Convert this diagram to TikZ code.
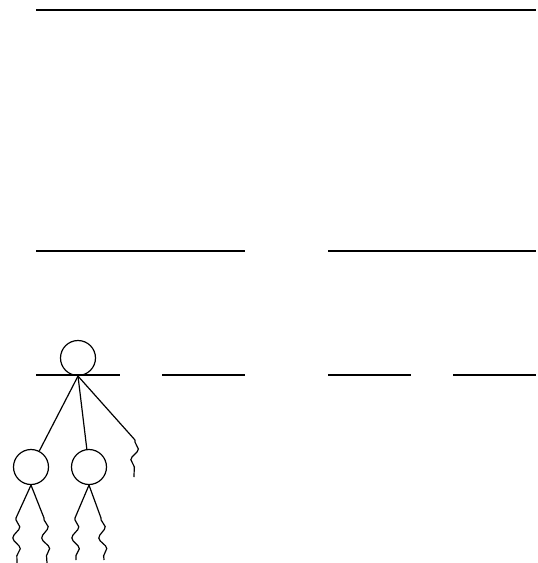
\documentclass[tikz,border=0pt]{standalone}
\usetikzlibrary{decorations.pathmorphing}
\begin{document}
\begin{tikzpicture}[x=0.5pt,y=-0.5pt,line width=0.6pt]
\tikzset{knot/.style={draw,circle,inner sep=0pt,minimum size=17.5pt},
  wiggle/.style={decorate,decoration={snake,amplitude=1.8pt,segment length=11pt,pre length=1pt,post length=1pt}}}
\useasboundingbox (0,0) rectangle (537,563);

\draw (36,10) -- (536,10);

\draw (36,251) -- (245,251);
\draw (328,251) -- (536,251);

\draw (36,375) -- (120,375);
\draw (162,375) -- (245,375);
\draw (328,375) -- (411,375);
\draw (453,375) -- (536,375);

\node[knot] (root) at (78,358) {};
\node[knot] (kidA) at (31,467) {};
\node[knot] (kidB) at (89,467) {};
\coordinate (w) at (135,440);
\coordinate (wEnd) at (134,477);
\draw (root.south) -- (kidA);
\draw (root.south) -- (kidB);
\draw (root.south) -- (w);
\draw[wiggle] (w) -- (wEnd);

\coordinate (a1) at (16,518);
\coordinate (a1End) at (17,563);
\coordinate (a2) at (44,518);
\coordinate (a2End) at (47,563);
\coordinate (b1) at (75,518);
\coordinate (b1End) at (76,560);
\coordinate (b2) at (101,518);
\coordinate (b2End) at (104,560);
\draw (kidA.south) -- (a1);
\draw[wiggle] (a1) -- (a1End);
\draw (kidA.south) -- (a2);
\draw[wiggle] (a2) -- (a2End);
\draw (kidB.south) -- (b1);
\draw[wiggle] (b1) -- (b1End);
\draw (kidB.south) -- (b2);
\draw[wiggle] (b2) -- (b2End);
\end{tikzpicture}
\end{document}
